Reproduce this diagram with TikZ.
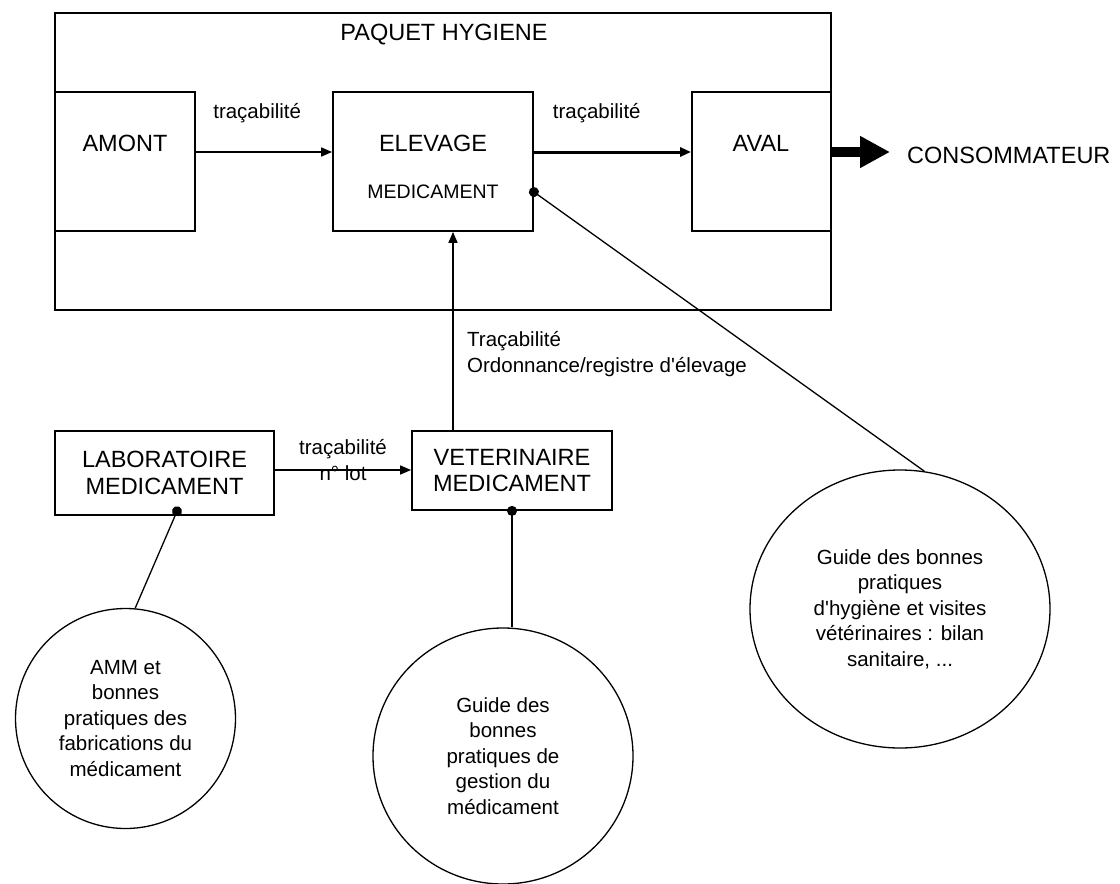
\documentclass[tikz,border=0pt]{standalone}
\usepackage{fontspec}
\setmainfont{Liberation Sans}
\usetikzlibrary{shapes.geometric, arrows.meta, positioning, calc}

\begin{document}
\begin{tikzpicture}[
    x=1pt, y=-1pt,
    box/.style={draw, line width=1.8pt, inner sep=0pt},
    big/.style={font=\fontsize{23.5}{26.5}\selectfont, align=center, inner sep=0pt},
    lbl/.style={font=\fontsize{20.5}{25.5}\selectfont, align=center, inner sep=0pt},
    bulle/.style={draw, ellipse, line width=1.3pt, inner sep=0pt, align=center, font=\fontsize{20.5}{25.5}\selectfont},
    arr/.style={-{Triangle[length=11pt, width=9pt]}, line width=1.6pt},
    lien/.style={{Circle[length=10pt]}-, line width=1.3pt, shorten <=-5pt}
]
\useasboundingbox (0,0) rectangle (1120,884);
% paquet hygiene
\node[box, minimum width=776pt, minimum height=297pt] (paquet) at (443,161.5) {};
\node[big] (titre) at (444,35) {PAQUET HYGIENE};
\node[box, minimum width=140pt, minimum height=139pt] (amont) at (125,161.5) {};
\node[big] (tamont) at (125,143) {AMONT};
\node[box, minimum width=200pt, minimum height=139pt] (elevage) at (433,161.5) {};
\node[big] (televage) at (433,143) {ELEVAGE};
\node[font=\fontsize{19.5}{22}\selectfont, inner sep=0pt] (tmedic) at (433,192) {MEDICAMENT};
\node[box, minimum width=139pt, minimum height=139pt] (aval) at (761.5,161.5) {};
\node[big] (taval) at (761,143) {AVAL};
\node[big, anchor=west] (conso) at (907,155) {CONSOMMATEUR};
\draw[arr] ([yshift=9.5pt]amont.east) -- ([yshift=9.5pt]elevage.west) node[lbl, pos=0.45, yshift=39pt] (trac1) {traçabilité};
\draw[arr, line width=3pt] ([yshift=9.5pt]elevage.east) -- ([yshift=9.5pt]aval.west) node[lbl, pos=0.4, yshift=39pt] (trac2) {traçabilité};
\draw[line width=10pt, -{Triangle[length=30pt, width=30pt]}, shorten >=17pt] ([yshift=9.5pt]aval.east) -- ([yshift=9.5pt]aval.east -| conso.west);
% acteurs du medicament
\node[box, big, minimum width=219pt, minimum height=84pt] (labo) at (164.5,473) {LABORATOIRE\\MEDICAMENT};
\node[box, big, minimum width=200pt, minimum height=79pt] (vet) at (512,470.5) {VETERINAIRE\\MEDICAMENT};
\draw[arr] ([yshift=3pt]labo.east) -- ([yshift=3pt]labo.east -| vet.west) node[lbl, midway, yshift=10pt] (trac3) {traçabilité\\n° lot};
\draw[arr] ([xshift=-59pt]vet.north) -- ([xshift=-59pt]vet.north |- elevage.south);
\node[lbl, align=left, anchor=west] (ordo) at (467,354) {Traçabilité\\Ordonnance/registre d\textquotesingle élevage};
% guides
\node[bulle, minimum size=220pt] (guidea) at (125.5,718.5) {AMM et\\bonnes\\pratiques des\\fabrications du\\médicament};
\node[bulle, minimum width=260pt, minimum height=256pt] (guideg) at (503,756) {Guide des\\bonnes\\pratiques de\\gestion du\\médicament};
\node[bulle, minimum width=300pt, minimum height=278pt] (guideh) at (900,609) {Guide des bonnes\\pratiques\\d\textquotesingle hygiène et visites\\vétérinaires : bilan\\sanitaire, ...};
\draw[lien, shorten <=-10pt] ([xshift=10.5pt]labo.south) -- (guidea.85);
\draw[lien] (vet.south) -- (vet.south |- guideg.north);
\draw[lien] ([yshift=-30.5pt]elevage.east) -- (guideh.80);
\end{tikzpicture}
\end{document}
